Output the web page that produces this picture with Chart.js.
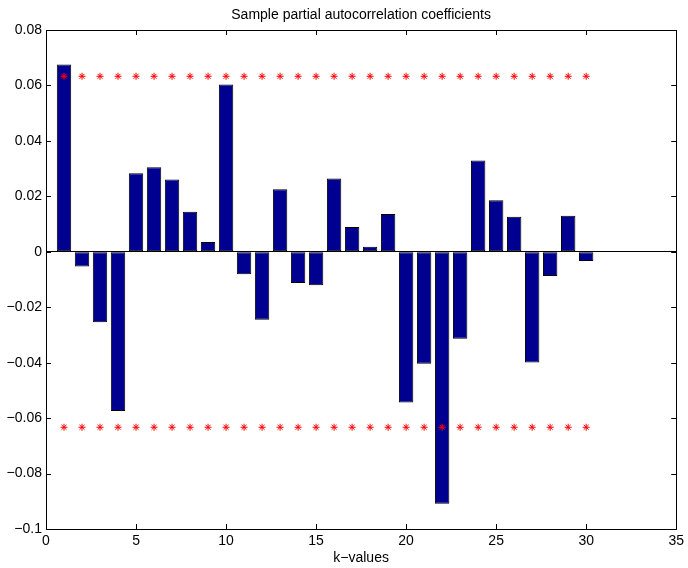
<!DOCTYPE html>
<html>
<head>
<meta charset="utf-8">
<script src="https://cdn.jsdelivr.net/npm/chart.js@4/dist/chart.umd.min.js"></script>
<style>
  html, body { margin: 0; padding: 0; background: #fff; }
  canvas { display: block; }
</style>
</head>
<body>
<canvas id="pacf" width="688" height="568"></canvas>
<script>
// PACF values per lag.
const lags = [1, 2, 3, 4, 5, 6, 7, 8, 9, 10, 11, 12, 13, 14, 15,
  16, 17, 18, 19, 20, 21, 22, 23, 24, 25, 26, 27, 28, 29, 30];
const pacf = [0.0676, -0.0053, -0.0254, -0.0574, 0.0283, 0.0305, 0.0261, 0.0144, 0.0035, 0.0603,
  -0.0081, -0.0245, 0.0226, -0.0113, -0.0121, 0.0264, 0.0089, 0.0018, 0.0136, -0.0544,
  -0.0404, -0.0909, -0.0314, 0.0329, 0.0186, 0.0126, -0.0399, -0.0087, 0.0130, -0.0033];
// 95% confidence bound (the red asterisk rows).
const confBound = 0.0633;

const xTicks = [0, 5, 10, 15, 20, 25, 30, 35];
const yTicks = [-0.1, -0.08, -0.06, -0.04, -0.02, 0, 0.02, 0.04, 0.06, 0.08];
const yTickLabels = ["\u22120.1", "\u22120.08", "\u22120.06", "\u22120.04", "\u22120.02", "0", "0.02", "0.04", "0.06", "0.08"];

const FONT = "'Liberation Sans', Arial, Helvetica, sans-serif";
const TICK_LEN = 5;

// MATLAB-style box with inward tick marks on all four sides.
const matlabBox = {
  id: "matlabBox",
  afterDatasetsDraw(chart) {
    const { ctx, chartArea: a, scales } = chart;
    ctx.save();
    ctx.strokeStyle = "#000";
    ctx.lineWidth = 1;
    ctx.beginPath();
    for (const v of xTicks) {
      const px = Math.round(scales.x.getPixelForValue(v)) + 0.5;
      ctx.moveTo(px, a.bottom); ctx.lineTo(px, a.bottom - TICK_LEN);
      ctx.moveTo(px, a.top); ctx.lineTo(px, a.top + TICK_LEN);
    }
    for (const v of yTicks) {
      const py = Math.round(scales.y.getPixelForValue(v)) + 0.5;
      ctx.moveTo(a.left, py); ctx.lineTo(a.left + TICK_LEN, py);
      ctx.moveTo(a.right, py); ctx.lineTo(a.right - TICK_LEN, py);
    }
    ctx.stroke();
    ctx.strokeRect(Math.round(a.left) + 0.5, Math.round(a.top) + 0.5,
      Math.round(a.right - a.left), Math.round(a.bottom - a.top));
    ctx.restore();
  },
};

new Chart(document.getElementById("pacf"), {
  data: {
    datasets: [
      {
        type: "scatter",
        label: "upper",
        data: lags.map((k) => ({ x: k, y: confBound })),
        pointStyle: "star",
        pointRadius: 3.5,
        borderColor: "#ff0000",
        backgroundColor: "#ff0000",
        borderWidth: 1,
        order: 0,
      },
      {
        type: "scatter",
        label: "lower",
        data: lags.map((k) => ({ x: k, y: -confBound })),
        pointStyle: "star",
        pointRadius: 3.5,
        borderColor: "#ff0000",
        backgroundColor: "#ff0000",
        borderWidth: 1,
        order: 0,
      },
      {
        type: "bar",
        label: "pacf",
        data: lags.map((k, i) => ({ x: k, y: pacf[i] })),
        backgroundColor: "#000090",
        borderColor: "#000000",
        borderWidth: 1,
        borderSkipped: false,
        categoryPercentage: 1,
        barPercentage: 0.8,
        order: 1,
      },
    ],
  },
  plugins: [matlabBox],
  options: {
    responsive: false,
    animation: false,
    events: [],
    layout: { padding: { top: 0, right: 9, bottom: 0, left: 0 } },
    plugins: {
      legend: { display: false },
      tooltip: { enabled: false },
      title: {
        display: true,
        text: "Sample partial autocorrelation coefficients",
        color: "#000",
        fullSize: false,
        font: { family: FONT, size: 14, weight: "normal", lineHeight: 1.2 },
        padding: { top: 6.6, bottom: 6.6 },
      },
    },
    scales: {
      x: {
        type: "linear",
        min: 0,
        max: 35,
        offset: false,
        grid: { display: false, offset: false, drawTicks: false },
        border: { display: false },
        afterBuildTicks: (s) => { s.ticks = xTicks.map((v) => ({ value: v })); },
        ticks: {
          color: "#000",
          padding: 4,
          maxRotation: 0,
          autoSkip: false,
          font: { family: FONT, size: 14, lineHeight: 1.2 },
          callback: (v) => String(v),
        },
        title: {
          display: true,
          text: "k\u2212values",
          color: "#000",
          font: { family: FONT, size: 14, lineHeight: 1.2 },
          padding: { top: 0, bottom: 1.6 },
        },
        afterFit: (s) => { s.height = 39; },
      },
      y: {
        type: "linear",
        min: -0.1,
        max: 0.08,
        grid: {
          drawTicks: false,
          color: (c) => (c.tick && Math.abs(c.tick.value) < 1e-9 ? "#000" : "rgba(0,0,0,0)"),
          lineWidth: 1,
        },
        border: { display: false },
        afterBuildTicks: (s) => { s.ticks = yTicks.map((v) => ({ value: v })); },
        ticks: {
          color: "#000",
          padding: 4,
          autoSkip: false,
          font: { family: FONT, size: 14, lineHeight: 1.2 },
          callback: (v, i) => yTickLabels[i],
        },
        afterFit: (s) => { s.width = 46; },
      },
    },
  },
});
</script>
</body>
</html>
